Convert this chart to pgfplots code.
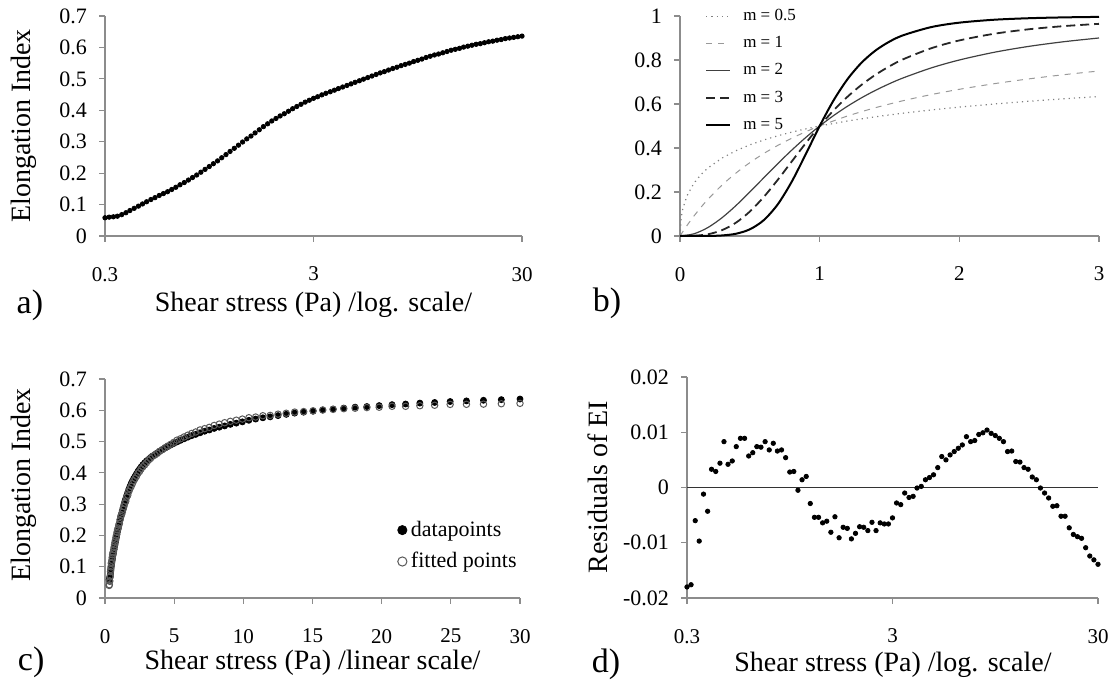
\documentclass[border=0pt]{standalone}
\usepackage{fontspec}
\setmainfont{Liberation Serif}
\usepackage{pgfplots}
\usepackage{pgfplotstable}
\pgfplotsset{compat=1.18}

\definecolor{axgray}{gray}{0.55}

% shear stress, elongation index, residual, fitted value
\pgfplotstableread{
x ei res fit
0.300 0.058 -0.0180 0.0400
0.314 0.060 -0.0176 0.0424
0.329 0.061 -0.0060 0.0550
0.344 0.063 -0.0097 0.0533
0.361 0.068 -0.0012 0.0668
0.378 0.074 -0.0043 0.0697
0.395 0.081 0.0033 0.0843
0.414 0.088 0.0029 0.0909
0.434 0.095 0.0044 0.0994
0.454 0.102 0.0083 0.1103
0.475 0.109 0.0042 0.1132
0.498 0.116 0.0048 0.1208
0.521 0.122 0.0074 0.1294
0.546 0.129 0.0089 0.1379
0.572 0.135 0.0089 0.1439
0.599 0.141 0.0057 0.1467
0.627 0.148 0.0063 0.1543
0.656 0.155 0.0074 0.1624
0.687 0.163 0.0073 0.1703
0.720 0.170 0.0083 0.1783
0.754 0.178 0.0068 0.1848
0.789 0.186 0.0080 0.1940
0.826 0.194 0.0066 0.2006
0.865 0.203 0.0068 0.2098
0.906 0.212 0.0054 0.2174
0.949 0.221 0.0028 0.2238
0.993 0.230 0.0029 0.2329
1.040 0.239 -0.0005 0.2385
1.089 0.249 0.0014 0.2504
1.141 0.259 0.0020 0.2610
1.194 0.269 -0.0029 0.2661
1.251 0.279 -0.0054 0.2736
1.310 0.289 -0.0054 0.2836
1.371 0.299 -0.0064 0.2926
1.436 0.309 -0.0061 0.3029
1.504 0.318 -0.0081 0.3099
1.574 0.328 -0.0053 0.3227
1.649 0.338 -0.0091 0.3289
1.726 0.348 -0.0072 0.3408
1.808 0.357 -0.0074 0.3496
1.893 0.366 -0.0093 0.3567
1.982 0.374 -0.0083 0.3657
2.075 0.382 -0.0071 0.3749
2.173 0.389 -0.0072 0.3818
2.276 0.397 -0.0078 0.3892
2.383 0.405 -0.0063 0.3987
2.495 0.412 -0.0078 0.4042
2.613 0.419 -0.0064 0.4126
2.736 0.426 -0.0066 0.4194
2.865 0.432 -0.0066 0.4254
3.000 0.438 -0.0055 0.4325
3.14 0.443 -0.0028 0.4402
3.29 0.449 -0.0031 0.4459
3.44 0.454 -0.0010 0.4530
3.61 0.459 -0.0018 0.4572
3.78 0.464 -0.0016 0.4624
3.95 0.469 -0.0001 0.4689
4.14 0.474 0.0002 0.4742
4.34 0.479 0.0014 0.4804
4.54 0.484 0.0018 0.4858
4.75 0.489 0.0023 0.4913
4.98 0.494 0.0036 0.4976
5.21 0.499 0.0056 0.5046
5.46 0.504 0.0050 0.5090
5.72 0.509 0.0059 0.5149
5.99 0.514 0.0065 0.5205
6.27 0.519 0.0071 0.5261
6.56 0.523 0.0077 0.5307
6.87 0.528 0.0092 0.5372
7.20 0.533 0.0083 0.5413
7.54 0.537 0.0085 0.5455
7.89 0.542 0.0096 0.5516
8.26 0.546 0.0099 0.5559
8.65 0.550 0.0104 0.5604
9.06 0.555 0.0098 0.5648
9.49 0.559 0.0094 0.5684
9.93 0.563 0.0089 0.5719
10.40 0.568 0.0083 0.5763
10.89 0.572 0.0065 0.5785
11.41 0.576 0.0066 0.5826
11.94 0.579 0.0047 0.5837
12.51 0.583 0.0046 0.5876
13.10 0.587 0.0036 0.5906
13.71 0.591 0.0033 0.5943
14.36 0.594 0.0019 0.5959
15.04 0.597 0.0014 0.5984
15.74 0.601 -0.0001 0.6009
16.49 0.604 -0.0010 0.6030
17.26 0.607 -0.0019 0.6051
18.08 0.610 -0.0034 0.6066
18.93 0.612 -0.0033 0.6087
19.82 0.615 -0.0052 0.6098
20.75 0.618 -0.0052 0.6128
21.73 0.620 -0.0073 0.6127
22.76 0.623 -0.0085 0.6145
23.83 0.625 -0.0089 0.6161
24.95 0.628 -0.0092 0.6188
26.13 0.630 -0.0109 0.6191
27.36 0.632 -0.0124 0.6196
28.65 0.634 -0.0131 0.6209
30.00 0.636 -0.0139 0.6221
}\eidata

\pgfplotsset{
  panel/.style={
    scale only axis, clip=false,
    axis x line*=bottom, axis y line*=left,
    axis line style={axgray, line width=0.6pt},
    tick style={axgray, line width=0.6pt},
    tick align=outside, major tick length=3pt,
    minor tick num=0, xminorticks=false, yminorticks=false,
    scaled ticks=false,
    /pgf/number format/assume math mode=true,
    x tick label style={font=\fontsize{10.5}{12}\selectfont, yshift=-9pt},
    y tick label style={font=\fontsize{11}{12}\selectfont, xshift=-2.5pt},
    label style={font=\fontsize{14}{16}\selectfont},
  },
}
\tikzset{plab/.style={font=\fontsize{17}{20}\selectfont}}

\begin{document}
\begin{tikzpicture}
\useasboundingbox (0,0) rectangle (554.5pt,342pt);

% a) EI vs shear stress, log axis
\begin{axis}[panel, at={(52.5pt,224pt)}, anchor=south west,
  width=208.5pt, height=110pt,
  xmode=log, xmin=0.3, xmax=30, ymin=0, ymax=0.7,
  xtick={0.3,3,30}, xticklabels={0.3,3,30},
  ytick={0,0.1,0.2,0.3,0.4,0.5,0.6,0.7},
  yticklabels={0,0.1,0.2,0.3,0.4,0.5,0.6,0.7},
  xlabel={Shear stress (Pa) /log. scale/},
  xlabel style={at={(axis description cs:0.5,-0.314)}, anchor=center},
  ylabel={Elongation Index},
  ylabel style={at={(axis description cs:-0.194,0.5)}, anchor=center},
]
\addplot[only marks, mark=*, mark size=1.1pt, black] table[x=x, y=ei] {\eidata};
\node[plab] at (axis description cs:-0.18,-0.314) {a)};
\end{axis}

% b) model curves
\begin{axis}[panel, at={(340pt,224pt)}, anchor=south west,
  width=209.5pt, height=110pt,
  xmin=0, xmax=3, ymin=0, ymax=1,
  xtick={0,1,2,3}, xticklabels={0,1,2,3},
  ytick={0,0.2,0.4,0.6,0.8,1}, yticklabels={0,0.2,0.4,0.6,0.8,1},
  legend style={at={(axis description cs:0.045,1.07)}, anchor=north west,
    draw=none, fill=none, font=\fontsize{8.5}{9}\selectfont, row sep=2.5pt,
    /tikz/every odd column/.append style={column sep=4pt}},
  legend cell align=left,
  legend image code/.code={\draw[#1] (0pt,0pt) -- (12pt,0pt);},
]
\addplot[gray, dotted, line width=0.6pt] coordinates {
(0,0) (0.01,0.0909) (0.02,0.1239) (0.05,0.1827) (0.1,0.2403) (0.15,0.2792)
(0.2,0.3090) (0.3,0.3539) (0.4,0.3874) (0.5,0.4142) (0.6,0.4365) (0.7,0.4555)
(0.8,0.4721) (0.9,0.4868) (1,0.5) (1.2,0.5228) (1.4,0.5420) (1.6,0.5585)
(1.8,0.5730) (2,0.5858) (2.25,0.6) (2.5,0.6126) (2.75,0.6238) (3,0.6340)};
\addlegendentry{m = 0.5}
\addplot[gray!80, dashed, line width=0.5pt, smooth] coordinates {
(0,0) (0.05,0.0476) (0.1,0.0909) (0.15,0.1304) (0.2,0.1667) (0.3,0.2308)
(0.4,0.2857) (0.5,0.3333) (0.6,0.375) (0.7,0.4118) (0.8,0.4444) (0.9,0.4737)
(1,0.5) (1.2,0.5455) (1.4,0.5833) (1.6,0.6154) (1.8,0.6429) (2,0.6667)
(2.25,0.6923) (2.5,0.7143) (2.75,0.7333) (3,0.75)};
\addlegendentry{m = 1}
\addplot[black!75, line width=0.6pt, smooth] coordinates {
(0,0) (0.1,0.0099) (0.2,0.0385) (0.3,0.0826) (0.4,0.1379) (0.5,0.2)
(0.6,0.2647) (0.7,0.3289) (0.8,0.3902) (0.9,0.4475) (1,0.5) (1.1,0.5475)
(1.2,0.5902) (1.3,0.6283) (1.4,0.6622) (1.5,0.6923) (1.6,0.7191) (1.8,0.7642)
(2,0.8) (2.25,0.8351) (2.5,0.8621) (2.75,0.8832) (3,0.9)};
\addlegendentry{m = 2}
\addplot[black!85, line width=0.9pt, dash pattern=on 4.5pt off 2.5pt, smooth] coordinates {
(0,0) (0.1,0.001) (0.2,0.0079) (0.3,0.0263) (0.4,0.0602) (0.5,0.1111)
(0.6,0.1776) (0.7,0.2554) (0.8,0.3386) (0.9,0.4216) (1,0.5) (1.1,0.5710)
(1.2,0.6334) (1.3,0.6872) (1.4,0.7329) (1.5,0.7714) (1.6,0.8038) (1.8,0.8536)
(2,0.8889) (2.25,0.9193) (2.5,0.9398) (2.75,0.9541) (3,0.9643)};
\addlegendentry{m = 3}
\addplot[black, line width=1pt, smooth] coordinates {
(0,0) (0.2,0.0003) (0.3,0.0024) (0.4,0.0101) (0.5,0.0303) (0.6,0.0721)
(0.7,0.1439) (0.8,0.2468) (0.9,0.3713) (1,0.5) (1.1,0.6169) (1.2,0.7133)
(1.3,0.7878) (1.4,0.8432) (1.5,0.8836) (1.6,0.9129) (1.8,0.9497) (2,0.9697)
(2.25,0.9830) (2.5,0.9899) (2.75,0.9937) (3,0.9959)};
\addlegendentry{m = 5}
\node[plab] at (axis description cs:-0.174,-0.305) {b)};
\end{axis}

% c) data and fit, linear axis
\begin{axis}[panel, at={(52.5pt,43pt)}, anchor=south west,
  width=207.5pt, height=109.5pt,
  xmin=0, xmax=30, ymin=0, ymax=0.7,
  xtick={0,5,10,15,20,25,30}, xticklabels={0,5,10,15,20,25,30},
  ytick={0,0.1,0.2,0.3,0.4,0.5,0.6,0.7},
  yticklabels={0,0.1,0.2,0.3,0.4,0.5,0.6,0.7},
  xlabel={Shear stress (Pa) /linear scale/},
  xlabel style={at={(axis description cs:0.5,-0.295)}, anchor=center},
  ylabel={Elongation Index},
  ylabel style={at={(axis description cs:-0.195,0.516)}, anchor=center},
  legend style={at={(axis description cs:0.69,0.39)}, anchor=north west,
    draw=none, fill=none, font=\fontsize{11}{12}\selectfont, row sep=2.5pt},
  legend cell align=left,
]
\addplot[only marks, mark=*, mark size=1.5pt, black, legend image post style={mark size=2.3pt}] table[x=x, y=ei] {\eidata};
\addlegendentry{datapoints}
\addplot[only marks, mark=o, mark size=1.6pt, black!65, mark options={line width=0.5pt}, legend image post style={mark size=2.3pt}] table[x=x, y=fit] {\eidata};
\addlegendentry{fitted points}
\node[plab] at (axis description cs:-0.178,-0.295) {c)};
\end{axis}

% d) residuals
\begin{axis}[panel, at={(343.5pt,43pt)}, anchor=south west,
  width=205.5pt, height=110.5pt,
  xmode=log, xmin=0.3, xmax=30, ymin=-0.02, ymax=0.02,
  xtick={0.3,3,30}, xticklabels={0.3,3,30},
  ytick={-0.02,-0.01,0,0.01,0.02},
  yticklabels={-0.02,-0.01,0,0.01,0.02},
  xlabel={Shear stress (Pa) /log. scale/},
  xlabel style={at={(axis description cs:0.501,-0.303)}, anchor=center},
  ylabel={Residuals of EI},
  ylabel style={at={(axis description cs:-0.217,0.502)}, anchor=center},
]
\addplot[black!80, line width=0.6pt] coordinates {(0.3,0) (30,0)};
\addplot[only marks, mark=*, mark size=1.1pt, black] table[x=x, y=res] {\eidata};
\node[plab] at (axis description cs:-0.197,-0.30) {d)};
\end{axis}
\end{tikzpicture}
\end{document}
